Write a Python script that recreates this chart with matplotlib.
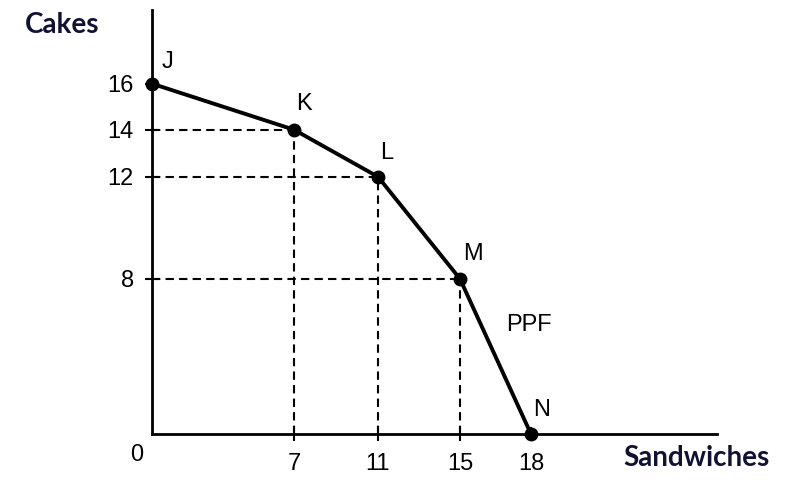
import numpy as np
import matplotlib.pyplot as plt

# PPF points
labels = ['J', 'K', 'L', 'M', 'N']
sandwiches = [0, 7, 11, 15, 18]
cakes = [16, 14, 12, 8, 0]

# the original picture is not drawn to a linear scale, so use piecewise scales
x_anchor = [0, 7, 11, 15, 18, 30]
x_draw = [0, 142, 226, 308, 379, 631]
y_anchor = [0, 8, 12, 14, 16, 20]
y_draw = [0, 155, 257, 304, 350, 442]


def fwd(a, d):
    return lambda v: np.interp(v, a, d)


def inv(a, d):
    return lambda v: np.interp(v, d, a)


plt.rcParams['font.family'] = ['Liberation Sans', 'DejaVu Sans']

fig = plt.figure(figsize=(7.92, 4.99), dpi=100)
ax = fig.add_axes([152 / 792, 65 / 499, 565 / 792, 424 / 499])
ax.set_xscale('function', functions=(fwd(x_anchor, x_draw), inv(x_anchor, x_draw)))
ax.set_yscale('function', functions=(fwd(y_anchor, y_draw), inv(y_anchor, y_draw)))
ax.set_xlim(0, 26.86)
ax.set_ylim(0, 19.2)

# dashed guide lines for K, L, M
for i in range(1, 4):
    ax.plot([0, sandwiches[i]], [cakes[i], cakes[i]], color='black', lw=1.5,
            dashes=(4, 2.5), zorder=1)
    ax.plot([sandwiches[i], sandwiches[i]], [0, cakes[i]], color='black', lw=1.5,
            dashes=(4, 2.5), zorder=1)

ax.plot(sandwiches, cakes, color='black', lw=2.8, zorder=2)
ax.plot(sandwiches, cakes, 'o', color='black', ms=9, clip_on=False, zorder=3)

offs = [(15, 22), (10, 26), (9, 24), (13, 25), (11, 24)]
for n in range(len(labels)):
    ax.annotate(labels[n], (sandwiches[n], cakes[n]), xytext=offs[n],
                textcoords='offset pixels', ha='center', va='center', fontsize=17)

ax.text(17.9, 5.6, 'PPF', ha='center', va='center', fontsize=17)

ax.set_xticks(sandwiches[1:])
ax.set_yticks(cakes[:-1])
ax.minorticks_off()
ax.tick_params(axis='both', direction='inout', length=10, width=1.5, labelsize=17)
ax.tick_params(axis='x', pad=9)
ax.tick_params(axis='y', pad=8)

for s in ['top', 'right']:
    ax.spines[s].set_visible(False)
for s in ['left', 'bottom']:
    ax.spines[s].set_linewidth(2)

fig.text(137 / 792, 1 - 455 / 499, '0', ha='center', va='center', fontsize=17)
fig.text(25 / 792, 1 - 25 / 499, 'Cakes', ha='left', va='center', fontsize=20,
         fontweight='bold', family='Lato', color='#111133')
fig.text(770 / 792, 1 - 458 / 499, 'Sandwiches', ha='right', va='center', fontsize=20,
         fontweight='bold', family='Lato', color='#111133')

plt.savefig('out.png', dpi=100)
